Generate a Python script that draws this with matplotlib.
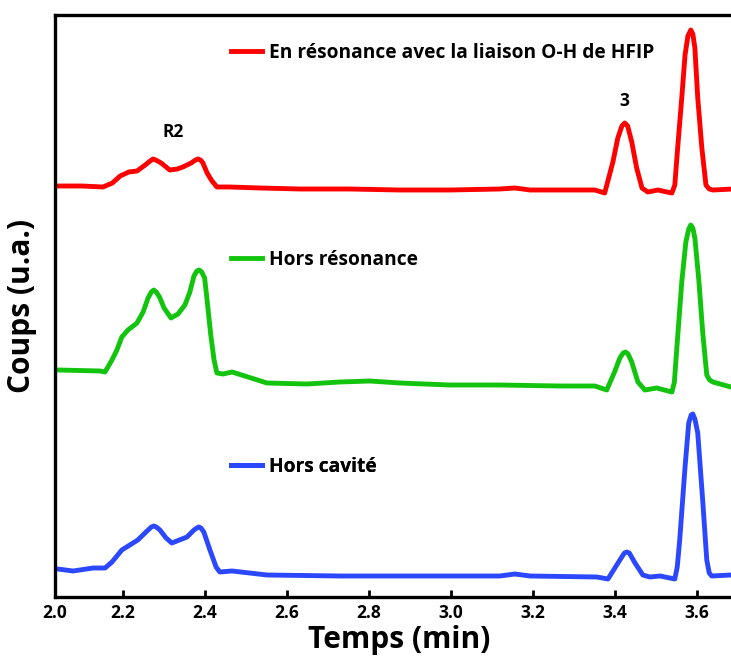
import matplotlib
matplotlib.use("Agg")
import matplotlib.pyplot as plt
from matplotlib.lines import Line2D

plt.rcParams['font.family'] = ['Open Sans', 'DejaVu Sans']
plt.rcParams['font.weight'] = 'bold'

# ---- data (time in min, stacked counts in arbitrary units) ----
red_t = [2.040, 2.100, 2.152, 2.175, 2.194, 2.215, 2.235, 2.255, 2.267, 2.274, 2.281, 2.294,
         2.315, 2.333, 2.347, 2.367, 2.378, 2.384, 2.390, 2.396, 2.406, 2.418, 2.430, 2.462,
         2.535, 2.633, 2.755, 2.876, 2.998, 3.120, 3.157, 3.194, 3.267, 3.352, 3.376, 3.396,
         3.408, 3.418, 3.425, 3.432, 3.442, 3.454, 3.467, 3.481, 3.506, 3.528, 3.540, 3.547,
         3.554, 3.564, 3.572, 3.579, 3.586, 3.591, 3.596, 3.603, 3.613, 3.623, 3.631, 3.640, 3.689]
red_y = [411, 411, 410, 414, 421, 425, 426, 432, 436, 438, 437, 434,
         427, 428, 430, 434, 437, 438, 437, 434, 424, 416, 410, 410,
         409, 408, 408, 407, 407, 408, 409, 407, 407, 407, 404, 435,
         459, 471, 474, 471, 455, 429, 409, 405, 407, 405, 404, 412,
         449, 499, 542, 561, 567, 563, 549, 499, 449, 412, 408, 407, 408]

green_t = [2.042, 2.145, 2.157, 2.174, 2.186, 2.198, 2.213, 2.235, 2.250, 2.262, 2.270, 2.276,
           2.282, 2.290, 2.301, 2.318, 2.335, 2.352, 2.364, 2.374, 2.381, 2.387, 2.393, 2.400,
           2.406, 2.415, 2.423, 2.430, 2.445, 2.467, 2.498, 2.552, 2.650, 2.730, 2.803, 2.876,
           2.998, 3.120, 3.267, 3.352, 3.381, 3.400, 3.413, 3.421, 3.427, 3.433, 3.442, 3.457,
           3.474, 3.503, 3.540, 3.546, 3.552, 3.564, 3.574, 3.581, 3.586, 3.591, 3.596, 3.606,
           3.615, 3.625, 3.632, 3.640, 3.684, 3.689]
green_y = [227, 226, 225, 237, 247, 260, 267, 274, 285, 299, 305, 307,
           305, 300, 289, 279, 283, 292, 305, 321, 326, 327, 325, 319,
           297, 262, 237, 224, 223, 225, 221, 214, 213, 215, 216, 214,
           212, 212, 211, 211, 207, 225, 239, 244, 245, 243, 235, 215,
           207, 209, 205, 215, 249, 315, 355, 368, 372, 369, 359, 315,
           265, 222, 217, 215, 210, 210]

blue_t = [2.042, 2.079, 2.128, 2.157, 2.174, 2.198, 2.237, 2.257, 2.270, 2.276, 2.282, 2.291,
          2.306, 2.320, 2.357, 2.374, 2.381, 2.386, 2.391, 2.398, 2.413, 2.428, 2.437, 2.467,
          2.552, 2.730, 2.998, 3.120, 3.157, 3.194, 3.357, 3.384, 3.413, 3.424, 3.430, 3.436,
          3.450, 3.469, 3.486, 3.511, 3.547, 3.553, 3.559, 3.572, 3.581, 3.587, 3.591, 3.596,
          3.603, 3.615, 3.625, 3.631, 3.637, 3.684, 3.689]
blue_y = [28, 26, 29, 29, 35, 47, 57, 65, 70, 71, 70, 67,
          59, 54, 60, 67, 69, 70, 69, 65, 47, 30, 25, 26,
          22, 21, 21, 21, 23, 21, 20, 18, 37, 44, 45, 44,
          34, 22, 20, 21, 18, 30, 57, 130, 174, 182, 183, 178,
          164, 97, 37, 24, 21, 22, 22]

series_labels = ["En résonance avec la liaison O-H de HFIP", "Hors résonance", "Hors cavité"]
series_colors = ["#ff0000", "#12c40e", "#2b48ff"]
xtick_values = [2.035, 2.2, 2.4, 2.6, 2.8, 3.0, 3.2, 3.4, 3.6]
xtick_labels = ["2.0", "2.2", "2.4", "2.6", "2.8", "3.0", "3.2", "3.4", "3.6"]

W, H = 731, 660
fig = plt.figure(figsize=(W / 100, H / 100), dpi=100)
ax_l, ax_r, ax_b, ax_t = 55, 733, 597, 15
ax = fig.add_axes([ax_l / W, (H - ax_b) / H, (ax_r - ax_l) / W, (ax_b - ax_t) / H])

lw = 3.5
for t, y, c in [(red_t, red_y, series_colors[0]),
                (green_t, green_y, series_colors[1]),
                (blue_t, blue_y, series_colors[2])]:
    ax.plot(t, y, color=c, lw=lw, solid_joinstyle='round', solid_capstyle='round')

ax.set_xlim(2.035, 3.689)
ax.set_ylim(0, 582)
ax.set_xticks(xtick_values)
ax.set_xticklabels(xtick_labels, fontsize=12.5, fontweight='bold')
ax.set_yticks([])
ax.tick_params(axis='x', direction='in', length=5, width=2, pad=5)
for s in ax.spines.values():
    s.set_linewidth(2.4)
ax.spines['right'].set_visible(False)

ax.set_xlabel("Temps (min)", fontsize=21.5, fontweight='bold')
ax.xaxis.set_label_coords((399 - ax_l) / (ax_r - ax_l), (ax_b - 640) / (ax_b - ax_t))
ax.xaxis.label.set_va('center')
ax.set_ylabel("Coups (u.a.)", fontsize=21.5, fontweight='bold')
ax.yaxis.set_label_coords(-(ax_l - 22) / (ax_r - ax_l), 0.5)
ax.yaxis.label.set_va('center')

# legends
leg_y = [53, 260, 467]
fs = 13.8
for lab, col, py in zip(series_labels, series_colors, leg_y):
    h = Line2D([], [], color=col, lw=lw)
    lg = ax.legend([h], [lab], loc='center left',
                   bbox_to_anchor=((231 - ax_l) / (ax_r - ax_l), (ax_b - py) / (ax_b - ax_t)),
                   frameon=False, borderpad=0, borderaxespad=0, handlelength=1.6,
                   handletextpad=0.4, prop={'size': fs, 'weight': 'bold'})
    ax.add_artist(lg)

ax.text(2.323, 465, "R2", fontsize=12.5, fontweight='bold', ha='center', va='center')
ax.text(3.425, 496, "3", fontsize=12.5, fontweight='bold', ha='center', va='center')

fig.savefig("out.png", dpi=100)
